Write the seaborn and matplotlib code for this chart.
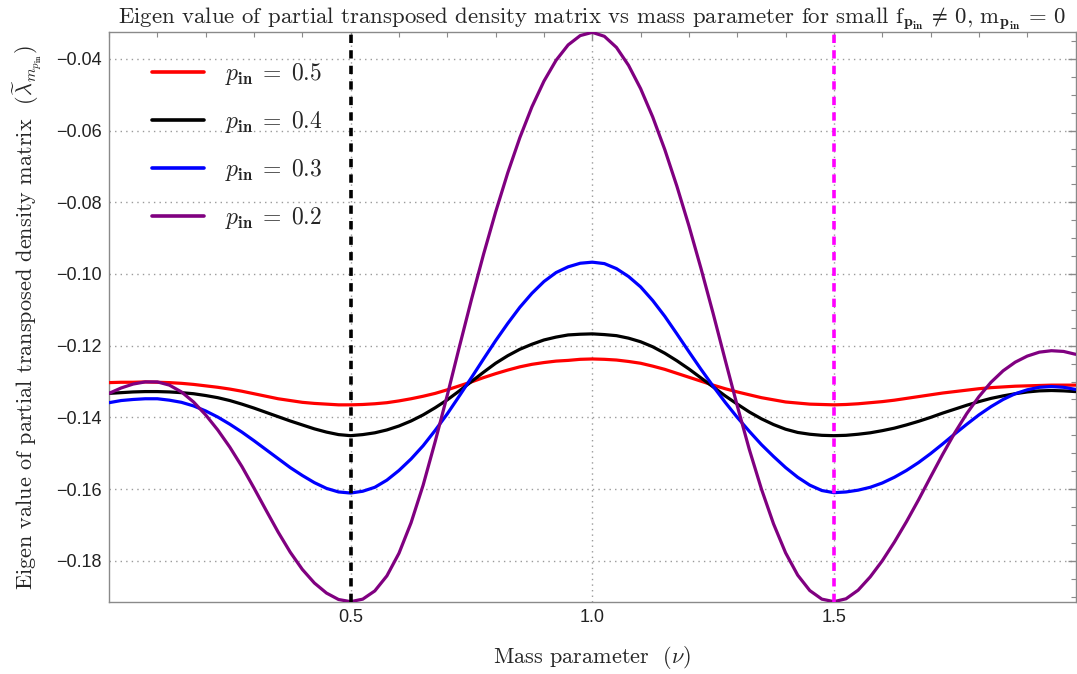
import numpy as np
import pandas as pd
import matplotlib
matplotlib.use("Agg")
import matplotlib.pyplot as plt
from matplotlib.ticker import MultipleLocator, FixedLocator
import seaborn as sns

# Mass parameter grid (step 0.025) shared by all curves
nu = [round(0.025 * i, 3) for i in range(81)]

lam_p05 = [-0.1303, -0.1302, -0.1302, -0.1301, -0.1302, -0.1303, -0.1305, -0.1308, -0.1312, -0.1316,
           -0.1321, -0.1327, -0.1334, -0.1341, -0.1348, -0.1353, -0.1358, -0.1361, -0.1363, -0.1365,
           -0.1365, -0.1364, -0.1362, -0.1359, -0.1354, -0.1348, -0.1341, -0.1333, -0.1323, -0.1312,
           -0.1301, -0.1289, -0.1278, -0.1268, -0.1259, -0.1252, -0.1247, -0.1243, -0.1241, -0.1238,
           -0.1237, -0.1238, -0.1240, -0.1244, -0.1249, -0.1257, -0.1266, -0.1277, -0.1288, -0.1299,
           -0.1310, -0.1320, -0.1329, -0.1337, -0.1345, -0.1351, -0.1357, -0.1360, -0.1363, -0.1364,
           -0.1365, -0.1364, -0.1362, -0.1359, -0.1356, -0.1352, -0.1347, -0.1342, -0.1337, -0.1332,
           -0.1328, -0.1324, -0.1320, -0.1317, -0.1315, -0.1313, -0.1312, -0.1311, -0.1310, -0.1310,
           -0.1310]

lam_p04 = [-0.1333, -0.1331, -0.1329, -0.1328, -0.1328, -0.1329, -0.1331, -0.1334, -0.1339, -0.1345,
           -0.1353, -0.1363, -0.1374, -0.1386, -0.1398, -0.1410, -0.1421, -0.1432, -0.1441, -0.1448,
           -0.1451, -0.1448, -0.1443, -0.1435, -0.1424, -0.1410, -0.1393, -0.1373, -0.1351, -0.1326,
           -0.1300, -0.1274, -0.1249, -0.1228, -0.1210, -0.1196, -0.1184, -0.1176, -0.1170, -0.1168,
           -0.1167, -0.1169, -0.1172, -0.1179, -0.1189, -0.1203, -0.1221, -0.1242, -0.1265, -0.1290,
           -0.1315, -0.1340, -0.1363, -0.1385, -0.1404, -0.1420, -0.1433, -0.1442, -0.1447, -0.1450,
           -0.1451, -0.1450, -0.1447, -0.1443, -0.1437, -0.1430, -0.1421, -0.1411, -0.1400, -0.1388,
           -0.1377, -0.1366, -0.1356, -0.1347, -0.1340, -0.1334, -0.1329, -0.1326, -0.1325, -0.1326,
           -0.1328]

lam_p03 = [-0.1359, -0.1353, -0.1350, -0.1348, -0.1348, -0.1352, -0.1358, -0.1368, -0.1382, -0.1399,
           -0.1419, -0.1441, -0.1465, -0.1490, -0.1515, -0.1540, -0.1562, -0.1582, -0.1598, -0.1608,
           -0.1611, -0.1606, -0.1595, -0.1575, -0.1548, -0.1516, -0.1479, -0.1436, -0.1390, -0.1340,
           -0.1289, -0.1237, -0.1186, -0.1138, -0.1093, -0.1054, -0.1021, -0.0996, -0.0980, -0.0970,
           -0.0967, -0.0971, -0.0985, -0.1007, -0.1036, -0.1074, -0.1118, -0.1167, -0.1217, -0.1266,
           -0.1313, -0.1358, -0.1400, -0.1439, -0.1476, -0.1509, -0.1540, -0.1567, -0.1589, -0.1604,
           -0.1610, -0.1608, -0.1603, -0.1595, -0.1583, -0.1567, -0.1548, -0.1526, -0.1501, -0.1474,
           -0.1446, -0.1419, -0.1393, -0.1370, -0.1350, -0.1334, -0.1323, -0.1316, -0.1314, -0.1316,
           -0.1322]

lam_p02 = [-0.1333, -0.1318, -0.1307, -0.1301, -0.1301, -0.1310, -0.1329, -0.1357, -0.1393, -0.1435,
           -0.1483, -0.1537, -0.1597, -0.1659, -0.1720, -0.1776, -0.1824, -0.1862, -0.1890, -0.1908,
           -0.1914, -0.1907, -0.1884, -0.1842, -0.1779, -0.1694, -0.1589, -0.1467, -0.1338, -0.1203,
           -0.1071, -0.0945, -0.0827, -0.0718, -0.0620, -0.0534, -0.0462, -0.0404, -0.0361, -0.0335,
           -0.0326, -0.0337, -0.0368, -0.0418, -0.0483, -0.0562, -0.0653, -0.0755, -0.0866, -0.0985,
           -0.1110, -0.1240, -0.1368, -0.1490, -0.1600, -0.1697, -0.1778, -0.1840, -0.1883, -0.1907,
           -0.1914, -0.1906, -0.1882, -0.1845, -0.1800, -0.1748, -0.1691, -0.1630, -0.1566, -0.1503,
           -0.1443, -0.1389, -0.1342, -0.1302, -0.1270, -0.1246, -0.1229, -0.1218, -0.1214, -0.1216,
           -0.1224]

labels = [r"$p_{\mathbf{in}}\;=\;0.5$", r"$p_{\mathbf{in}}\;=\;0.4$",
          r"$p_{\mathbf{in}}\;=\;0.3$", r"$p_{\mathbf{in}}\;=\;0.2$"]
colors = ["#FF0000", "#000000", "#0000FF", "#800080"]

marked_nu = [0.5, 1.5]
marked_colors = ["#000000", "#FF00FF"]

x_ticks = [0.5, 1.0, 1.5]
x_tick_labels = ["0.5", "1.0", "1.5"]
y_ticks = [-0.04, -0.06, -0.08, -0.10, -0.12, -0.14, -0.16, -0.18]
y_tick_labels = ["\u22120.04", "\u22120.06", "\u22120.08", "\u22120.10",
                 "\u22120.12", "\u22120.14", "\u22120.16", "\u22120.18"]

frames = []
for lab, ys in zip(labels, [lam_p05, lam_p04, lam_p03, lam_p02]):
    frames.append(pd.DataFrame({"nu": nu, "lam": ys, "series": lab}))
df = pd.concat(frames, ignore_index=True)

sns.set_style("white")
plt.rcParams["font.family"] = ["Liberation Sans", "DejaVu Sans"]
plt.rcParams["mathtext.fontset"] = "cm"

fig = plt.figure(figsize=(10.77, 6.74), dpi=100)
ax = fig.add_axes([0.1012, 0.1068, 0.8975, 0.8457])

sns.lineplot(data=df, x="nu", y="lam", hue="series", hue_order=labels,
             palette=colors, linewidth=2.3, sort=True, estimator=None,
             ax=ax, legend=False, zorder=3,
             solid_joinstyle="round", solid_capstyle="round")

for xv, c in zip(marked_nu, marked_colors):
    ax.axvline(xv, color=c, linewidth=2.6, linestyle=(0, (2.3, 2.0)), zorder=4)

ax.set_xlim(0.0, 2.0)
ax.set_ylim(-0.1915, -0.0325)

ax.xaxis.set_major_locator(FixedLocator(x_ticks))
ax.set_xticklabels(x_tick_labels)
ax.xaxis.set_minor_locator(MultipleLocator(0.1))
ax.yaxis.set_major_locator(FixedLocator(y_ticks))
ax.set_yticklabels(y_tick_labels)
ax.yaxis.set_minor_locator(MultipleLocator(0.005))

spine_c = "#8a8a8a"
for s in ax.spines.values():
    s.set_color(spine_c)
    s.set_linewidth(1.0)
ax.tick_params(which="both", direction="in", top=True, right=True,
               color=spine_c, labelsize=13, labelcolor="#222222", pad=5)
ax.tick_params(which="major", length=6, width=1.0)
ax.tick_params(which="minor", length=3.5, width=0.8)

ax.grid(True, which="major", color="#9a9a9a", linestyle=(0, (1, 3)), linewidth=1.0)
ax.set_axisbelow(True)

serif = dict(family="cmr10", size=16)
ax.set_title(r"Eigen value of partial transposed density matrix vs mass parameter for small "
             r"$\mathrm{f}_{\mathbf{p}_{\mathbf{in}}}\,\neq\,0,\,\mathrm{m}_{\mathbf{p}_{\mathbf{in}}}\,=\,0$",
             fontdict=dict(family="cmr10", size=16.4), pad=6)
ax.set_xlabel(r"Mass parameter  $(\nu)$", fontdict=serif, labelpad=13)
ax.set_ylabel(r"Eigen value of partial transposed density matrix  "
              r"$(\widetilde{\lambda}_{m_{p_{\mathbf{in}}}})$",
              fontdict=serif, labelpad=9)

handles = [plt.Line2D([], [], color=c, linewidth=2.6) for c in colors]
leg = ax.legend(handles, labels, loc="upper left", frameon=False, fontsize=17,
                handlelength=2.2, handletextpad=0.9, labelspacing=0.93,
                borderaxespad=0.0, bbox_to_anchor=(0.035, 0.965))

fig.savefig("out.png", dpi=100)
